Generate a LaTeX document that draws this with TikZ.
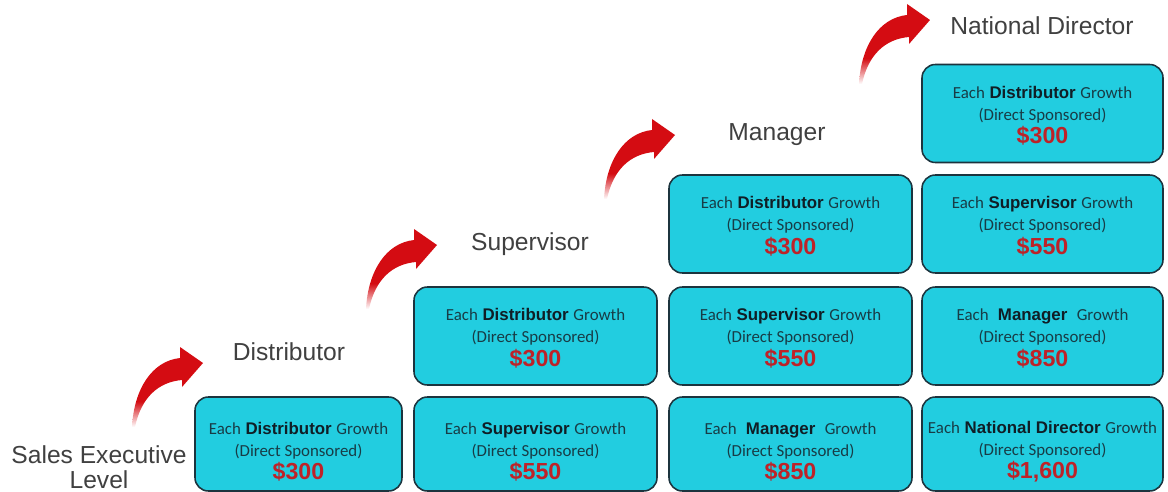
\documentclass[tikz,border=0pt]{standalone}
\usepackage{fontspec}
\setmainfont{Liberation Sans}
\newfontfamily\calibri{Carlito}
\usepackage{tikz}
\definecolor{boxcyan}{RGB}{34,205,224}
\definecolor{boxedge}{RGB}{28,52,62}
\definecolor{eachteal}{RGB}{24,60,70}
\definecolor{rankdark}{RGB}{16,30,38}
\definecolor{bonusred}{RGB}{190,34,40}
\definecolor{labelgray}{RGB}{64,64,64}
\definecolor{arrowred}{RGB}{212,12,18}
\pgfdeclareverticalshading{arrowfade}{100bp}{color(0bp)=(white); color(25bp)=(white);
    color(41bp)=(arrowred); color(75bp)=(arrowred); color(100bp)=(arrowred)}
\newcommand{\toppad}{\rule{0pt}{12pt}}
\tikzset{growthbox/.style={draw=boxedge,fill=boxcyan,line width=1.1pt,rounded corners=9.5pt,
        minimum height=98*0.025cm,inner sep=0,align=center,text=rankdark,
        font={\fontsize{12}{15.6}\selectfont\lineskiplimit=-10pt}},
    bottomrow/.style={minimum height=94*0.025cm,/utils/exec={\def\toppad{\rule{0pt}{20pt}}}},
    levellabel/.style={text=labelgray,inner sep=0,font={\fontsize{17.5}{17.8}\selectfont}}
}
\newcommand{\eachfont}{\calibri\color{eachteal}}
\newcommand{\growthbox}[6][]
{
% args: ([options], name, centre, width in px, rank, bonus)
    \node (#2) [growthbox,minimum width=#4*0.025cm,#1] at #3
        {\toppad{\eachfont Each} \textbf{#5} {\eachfont Growth}\\
         {\eachfont (Direct Sponsored)}\\[1.1pt]
         {\color{bonusred}\fontsize{16.5}{18}\selectfont\bfseries #6}};
}
\newcommand{\risearrow}[2]
{
% args: (x of arrow tip, y of arrow tip)
    \shade [shading=arrowfade,shift={(#1,#2)}]
        (-71,64) .. controls (-69,26) and (-51,-2) .. (-23,-5) -- (-23,-16) -- (0,0)
        -- (-21,24) -- (-21,17) .. controls (-45,19) and (-62,35) .. (-68,64) -- cycle;
}

\begin{document}
\begin{tikzpicture}[x=0.025cm,y=-0.025cm]

\useasboundingbox (0,0) rectangle (1168,492);

% bottom row
\growthbox[bottomrow]{c1r1}{(298.5,444)}{207}{Distributor}{\$300}
\growthbox[bottomrow]{c2r1}{(535.5,444)}{243}{Supervisor}{\$550}
\growthbox[bottomrow]{c3r1}{(790.5,444)}{243}{\ Manager\ }{\$850}
\growthbox[bottomrow]{c4r1}{(1042.5,444)}{241}{National Director}{\$1,600}

\growthbox{c2r2}{(535.5,336)}{243}{Distributor}{\$300}
\growthbox{c3r2}{(790.5,336)}{243}{Supervisor}{\$550}
\growthbox{c4r2}{(1042.5,336)}{241}{\ Manager\ }{\$850}

\growthbox{c3r3}{(790.5,224)}{243}{Distributor}{\$300}
\growthbox{c4r3}{(1042.5,224)}{241}{Supervisor}{\$550}

\growthbox{c4r4}{(1042.5,113.5)}{241}{Distributor}{\$300}

% level names
\node (salesLvl) [levellabel,align=center,anchor=south] at (99,489) {Sales Executive\\Level};
\node (distLvl) [levellabel,anchor=base] at (289,360) {Distributor};
\node (supLvl) [levellabel,anchor=base] at (530,250) {Supervisor};
\node (manLvl) [levellabel,anchor=base] at (777,141) {Manager};
\node (natLvl) [levellabel,anchor=base] at (1042,35) {National Director};

\risearrow{203}{363}
\risearrow{437}{245}
\risearrow{675}{135}
\risearrow{930}{20}

\end{tikzpicture}
\end{document}
